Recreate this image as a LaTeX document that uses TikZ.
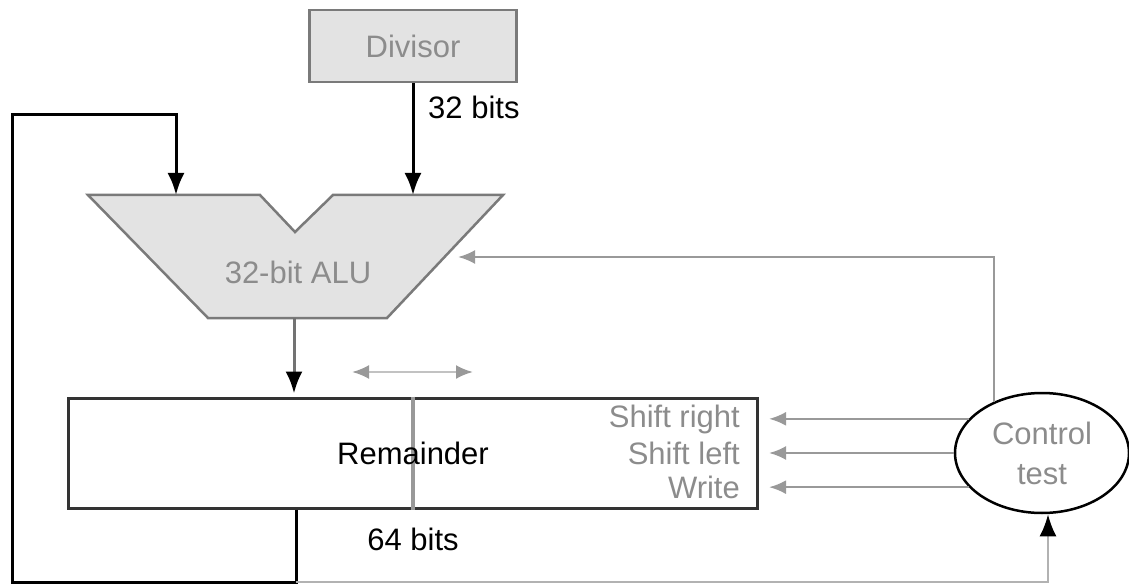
\documentclass[tikz,border=0pt]{standalone}
\usepackage{fontspec}
\setmainfont{Liberation Sans}
\usetikzlibrary{positioning,arrows.meta,shapes.geometric}
\definecolor{unitfill}{gray}{0.89}
\definecolor{unitedge}{gray}{0.48}
\definecolor{ctlgray}{gray}{0.6}
\definecolor{lblgray}{gray}{0.55}

\begin{document}
\begin{tikzpicture}[x=1pt,y=-1pt,font=\fontsize{31}{40}\selectfont,
  wire/.style={line width=3pt,-{Latex[length=22pt,width=17pt,color=black]}},
  ctl/.style={ctlgray,line width=2.5pt,-{Latex[length=17pt,width=14pt]}},
  unit/.style={draw=unitedge,fill=unitfill,line width=2.5pt},
  graylbl/.style={text=lblgray,inner sep=0pt}]
\useasboundingbox (0,0) rectangle (1129,585);
% divisor register
\node[unit,graylbl,minimum width=207pt,minimum height=72pt] (div) at (413,46) {Divisor};
\node[anchor=west,inner sep=0pt] (w32) at (428,107) {32 bits};
% ALU with the notch on top
\draw[unit] (88,195) -- (260,195) -- (295,232) -- (333,195) -- (503,195) -- (387,318) -- (208,318) -- cycle;
\node[graylbl] (alu) at (298,272) {32-bit ALU};
\coordinate (aluA) at (176,195);
\coordinate (aluB) at (413,195);
\coordinate (aluC) at (458,257);
\coordinate (aluOut) at (294,318);
% remainder register
\node[draw=black!80,line width=3pt,minimum width=689pt,minimum height=110pt] (rem) at (413,453) {};
\draw[ctlgray,line width=4pt] (rem.north) -- (rem.south);
\node[inner sep=0pt] (remlbl) at (rem.center) {Remainder};
\node[below=18pt of rem.south,inner sep=0pt] (w64) {64 bits};
\node[graylbl,anchor=east] (shr) at (740,419) {Shift right};
\node[graylbl,anchor=east] (shl) at (740,453) {Shift left};
\node[graylbl,anchor=east] (wr) at (740,487) {Write};
\coordinate (dirL) at (352,372);
\coordinate (dirR) at (473,372);
\draw[ctlgray!60,line width=2.5pt,{Latex[length=17pt,width=14pt,color=ctlgray]}-{Latex[length=17pt,width=14pt,color=ctlgray]}] (dirL) -- (dirR);
% control
\node[ellipse,draw,line width=2.5pt,minimum width=174pt,minimum height=120pt,align=center,text=lblgray] (ctrl) at (1042,453) {Control\\test};
% datapath
\draw[wire] (div.south) -- (aluB);
\draw[wire,black!55] (aluOut) -- ([yshift=3pt]rem.north -| aluOut);
\coordinate (loopbot) at (296,582);
\coordinate (loopcorner) at (12,115);
\draw[wire] (rem.south -| loopbot) -- (loopbot) -| (loopcorner) -| (aluA);
\draw[wire,black!30,line width=2.5pt] (loopbot) -| ([xshift=6pt]ctrl.south);
% control lines
\draw[ctl] (ctrl.133) |- (aluC);
\draw[ctl,shorten >=10pt] (ctrl.155) -- (rem.east |- ctrl.155);
\draw[ctl,shorten >=10pt] (ctrl.west) -- (rem.east |- ctrl.west);
\draw[ctl,shorten >=10pt] (ctrl.205) -- (rem.east |- ctrl.205);
\end{tikzpicture}
\end{document}
